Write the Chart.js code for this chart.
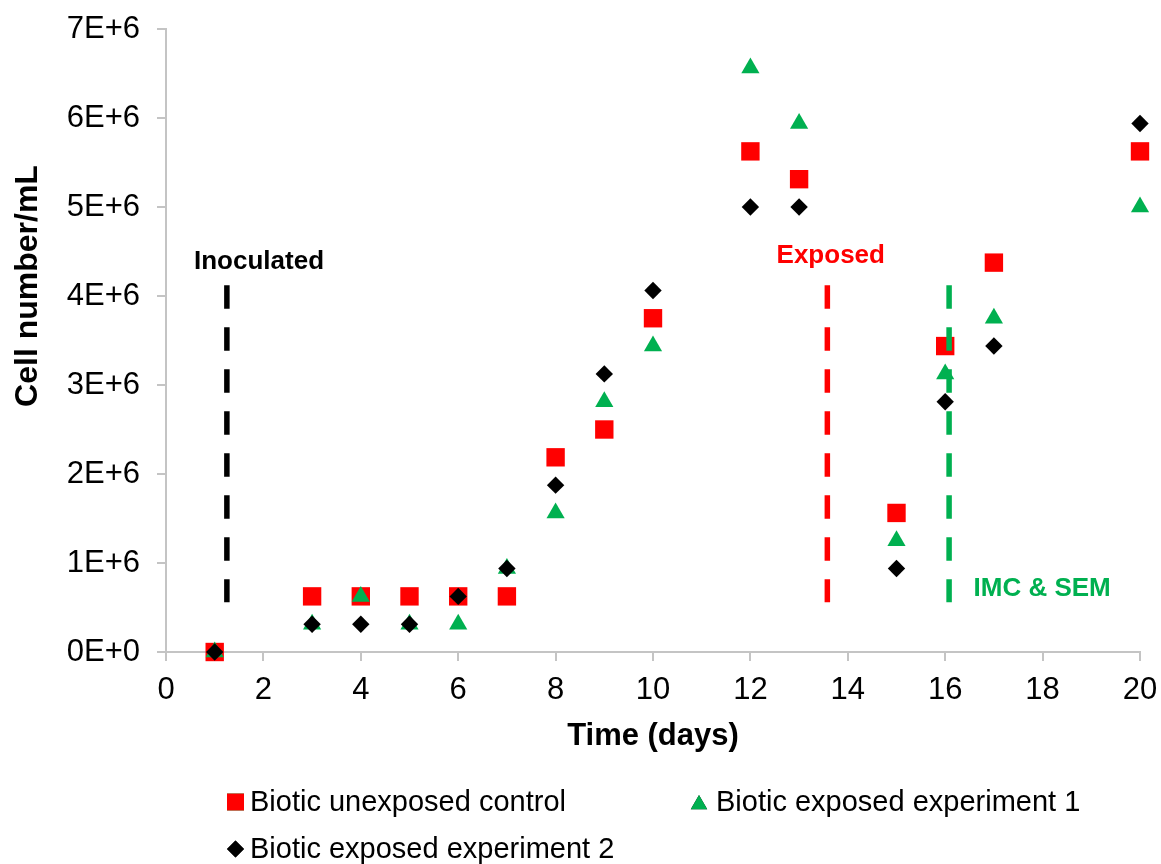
<!DOCTYPE html>
<html>
<head>
<meta charset="utf-8">
<script src="https://cdn.jsdelivr.net/npm/chart.js@4.4.1/dist/chart.umd.min.js"></script>
<style>
  html, body { margin: 0; padding: 0; background: #ffffff; }
  canvas { display: block; }
</style>
</head>
<body>
<canvas id="c" width="1161" height="864"></canvas>
<script>
// Sampling days
const days = [1, 3, 4, 5, 6, 7, 8, 9, 10, 12, 13, 15, 16, 17, 20];

// Cell counts (cells/mL) per series
const unexposedControl = [0, 625000, 625000, 625000, 625000, 625000, 2187500, 2500000, 3750000, 5625000, 5312500, 1562500, 3437500, 4375000, 5625000];
const exposedExp1 = [0, 312500, 625000, 312500, 312500, 937500, 1562500, 2812500, 3437500, 6562500, 5937500, 1250000, 3125000, 3750000, 5000000];
const exposedExp2 = [0, 312500, 312500, 312500, 625000, 937500, 1875000, 3125000, 4062500, 5000000, 5000000, 937500, 2812500, 3437500, 5937500];

const seriesLabels = ['Biotic unexposed control', 'Biotic exposed experiment 1', 'Biotic exposed experiment 2'];

// Event markers: day, top and bottom of the dashed line, label and label anchor
const eventDays = [1.25, 13.58, 16.08];
const eventTop = [4120000, 4120000, 4120000];
const eventBottom = [560000, 560000, 560000];
const eventLabels = ['Inoculated', 'Exposed', 'IMC & SEM'];
const eventLabelX = [1.91, 13.65, 17.99];
const eventLabelY = [4380000, 4450000, 714000];

// Axis ticks
const xTicks = [0, 2, 4, 6, 8, 10, 12, 14, 16, 18, 20];
const yTickValues = [0, 1e6, 2e6, 3e6, 4e6, 5e6, 6e6, 7e6];
const yTickLabels = ['0E+0', '1E+6', '2E+6', '3E+6', '4E+6', '5E+6', '6E+6', '7E+6'];

const xTitle = 'Time (days)';
const yTitle = 'Cell number/mL';

const RED = '#ff0000';
const GREEN = '#00b050';
const BLACK = '#000000';
const AXIS = '#c4c4c4';
const FONT = '"Liberation Sans", Arial, sans-serif';

const toPoints = (vals) => vals.map((v, i) => ({ x: days[i], y: v }));

const seriesStyle = [
  { color: RED, style: 'rect', radius: 13, order: 3 },
  { color: GREEN, style: 'triangle', radius: 10.5, order: 2 },
  { color: BLACK, style: 'rectRot', radius: 8.7, order: 1 }
];
const seriesData = [unexposedControl, exposedExp1, exposedExp2];
const eventColors = [BLACK, RED, GREEN];

const datasets = seriesData.map((vals, i) => ({
  label: seriesLabels[i],
  data: toPoints(vals),
  showLine: false,
  clip: false,
  pointStyle: seriesStyle[i].style,
  pointRadius: seriesStyle[i].radius,
  pointHoverRadius: seriesStyle[i].radius,
  pointBackgroundColor: seriesStyle[i].color,
  pointBorderWidth: 0,
  backgroundColor: seriesStyle[i].color,
  borderColor: seriesStyle[i].color,
  order: seriesStyle[i].order
}));

eventDays.forEach((d, i) => {
  datasets.push({
    label: eventLabels[i],
    data: [{ x: d, y: eventTop[i] }, { x: d, y: eventBottom[i] }],
    showLine: true,
    borderColor: eventColors[i],
    borderWidth: 5.5,
    borderDash: [23.5, 18.5],
    borderCapStyle: 'butt',
    pointRadius: 0,
    pointHoverRadius: 0,
    fill: false,
    order: 0
  });
});

// Event labels, y-axis title and the legend below the plot
const decorations = {
  id: 'decorations',
  afterDraw(chart) {
    const ctx = chart.ctx;
    const xs = chart.scales.x, ys = chart.scales.y;
    ctx.save();

    // event labels
    ctx.font = 'bold 26px ' + FONT;
    ctx.textAlign = 'center';
    ctx.textBaseline = 'middle';
    eventLabels.forEach((t, i) => {
      ctx.fillStyle = eventColors[i];
      ctx.fillText(t, xs.getPixelForValue(eventLabelX[i]), ys.getPixelForValue(eventLabelY[i]));
    });

    // y-axis title
    ctx.save();
    ctx.translate(28, 286);
    ctx.rotate(-Math.PI / 2);
    ctx.font = 'bold 32px ' + FONT;
    ctx.fillStyle = '#000';
    ctx.textAlign = 'center';
    ctx.textBaseline = 'middle';
    ctx.fillText(yTitle, 0, 0);
    ctx.restore();

    // legend
    const cells = [
      { mx: 235.5, tx: 250, y: 802, r: 12 },
      { mx: 699, tx: 716, y: 802, r: 9.5 },
      { mx: 235.5, tx: 250, y: 849, r: 8.5 }
    ];
    ctx.font = '29px ' + FONT;
    ctx.textAlign = 'left';
    ctx.textBaseline = 'middle';
    cells.forEach((c, i) => {
      Chart.helpers.drawPoint(ctx, {
        pointStyle: seriesStyle[i].style,
        radius: c.r,
        borderWidth: 0,
        rotation: 0
      }, c.mx, c.y + (seriesStyle[i].style === 'triangle' ? 2.5 : 0));
      ctx.fillStyle = seriesStyle[i].color;
      ctx.fill();
      ctx.fillStyle = '#000';
      ctx.fillText(seriesLabels[i], c.tx, c.y + 1);
    });
    ctx.restore();
  }
};

new Chart(document.getElementById('c'), {
  type: 'scatter',
  data: { datasets },
  options: {
    responsive: false,
    animation: false,
    events: [],
    layout: { padding: { left: 0, right: 21, top: 29, bottom: 109.4 } },
    plugins: {
      legend: { display: false },
      tooltip: { enabled: false }
    },
    scales: {
      x: {
        type: 'linear',
        min: 0,
        max: 20,
        afterBuildTicks: (s) => { s.ticks = xTicks.map(v => ({ value: v })); },
        afterFit: (s) => { s.height = 102.6; s.paddingLeft = 0; s.paddingRight = 0; },
        ticks: {
          color: '#000',
          font: { family: FONT, size: 31 },
          padding: 11,
          maxRotation: 0
        },
        grid: { drawOnChartArea: false, drawTicks: true, tickLength: 9, color: AXIS, lineWidth: 2 },
        border: { color: AXIS, width: 2 },
        title: {
          display: true,
          text: xTitle,
          color: '#000',
          font: { family: FONT, size: 31, weight: 'bold' },
          padding: { top: 0, bottom: 0 }
        }
      },
      y: {
        type: 'linear',
        min: 0,
        max: 7e6,
        afterBuildTicks: (s) => { s.ticks = yTickValues.map(v => ({ value: v })); },
        afterFit: (s) => { s.width = 166; s.paddingTop = 0; s.paddingBottom = 0; },
        ticks: {
          color: '#000',
          font: { family: FONT, size: 31 },
          padding: 17,
          callback: (v) => yTickLabels[yTickValues.indexOf(v)]
        },
        grid: { drawOnChartArea: false, drawTicks: true, tickLength: 9, color: AXIS, lineWidth: 2 },
        border: { color: AXIS, width: 2 }
      }
    }
  },
  plugins: [decorations]
});
</script>
</body>
</html>
